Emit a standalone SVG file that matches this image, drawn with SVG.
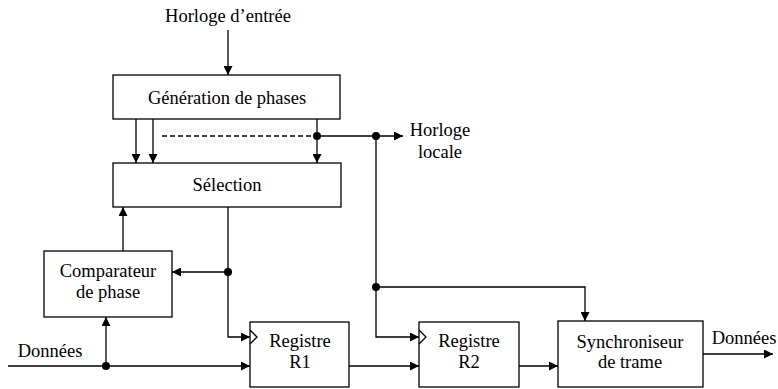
<svg xmlns="http://www.w3.org/2000/svg" width="778" height="389" viewBox="0 0 778 389">
  <style>
    .box { fill: #ffffff; stroke: #000000; stroke-width: 1.3; }
    .lbl { font-family: "Liberation Serif", serif; font-size: 18.5px; fill: #000000; text-anchor: middle; }
    .wire { fill: none; stroke: #000000; stroke-width: 1.3; }
    .arr { marker-end: url(#head); }
    .dash { stroke-dasharray: 5 3; }
    .dot { fill: #000000; }
  </style>
  <defs>
    <marker id="head" viewBox="0 0 10 10" refX="10" refY="5" markerWidth="9" markerHeight="9" markerUnits="userSpaceOnUse" orient="auto">
      <path d="M0,0 L10,5 L0,10 z" fill="#000000"/>
    </marker>
  </defs>

  <!-- free labels -->
  <text class="lbl" x="228" y="22" font-family="Liberation Serif">Horloge d’entrée</text>
  <text class="lbl" x="440" y="136" font-family="Liberation Serif">Horloge</text>
  <text class="lbl" x="440" y="158" font-family="Liberation Serif">locale</text>
  <text class="lbl" x="50" y="357" font-family="Liberation Serif">Données</text>
  <text class="lbl" x="744" y="344" font-family="Liberation Serif">Données</text>

  <!-- blocks -->
  <g id="generation">
    <rect class="box" x="113" y="75" width="227" height="44"/>
    <text class="lbl" x="227" y="104" font-family="Liberation Serif">Génération de phases</text>
  </g>
  <g id="selection">
    <rect class="box" x="113" y="163" width="228" height="44"/>
    <text class="lbl" x="227" y="191" font-family="Liberation Serif">Sélection</text>
  </g>
  <g id="comparateur">
    <rect class="box" x="44" y="251" width="128" height="66"/>
    <text class="lbl" x="108" y="277" font-family="Liberation Serif">Comparateur</text>
    <text class="lbl" x="108" y="298" font-family="Liberation Serif">de phase</text>
  </g>
  <g id="registre-r1">
    <rect class="box" x="250" y="322" width="99" height="65"/>
    <path class="wire" d="M250,330 L257,337 L250,344"/>
    <text class="lbl" x="300" y="347" font-family="Liberation Serif">Registre</text>
    <text class="lbl" x="300" y="368" font-family="Liberation Serif">R1</text>
  </g>
  <g id="registre-r2">
    <rect class="box" x="419" y="322" width="100" height="65"/>
    <path class="wire" d="M419,330 L426,337 L419,344"/>
    <text class="lbl" x="469" y="347" font-family="Liberation Serif">Registre</text>
    <text class="lbl" x="469" y="368" font-family="Liberation Serif">R2</text>
  </g>
  <g id="synchroniseur">
    <rect class="box" x="558" y="321" width="145" height="66"/>
    <text class="lbl" x="630" y="348" font-family="Liberation Serif">Synchroniseur</text>
    <text class="lbl" x="630" y="368" font-family="Liberation Serif">de trame</text>
  </g>

  <!-- connectors -->
  <g id="connectors">
    <path class="wire arr" d="M228,30 L228,75"/>
    <path class="wire arr" d="M136,119 L136,163"/>
    <path class="wire arr" d="M153,119 L153,163"/>
    <path class="wire dash" d="M162,136 L313,136"/>
    <path class="wire arr" d="M317,119 L317,163"/>
    <path class="wire arr" d="M317,136 L403,136"/>
    <path class="wire arr" d="M376,136 L376,337 L419,337"/>
    <path class="wire arr" d="M376,287 L585,287 L585,321"/>
    <path class="wire arr" d="M228,207 L228,337 L250,337"/>
    <path class="wire arr" d="M228,272 L172,272"/>
    <path class="wire arr" d="M123,251 L123,207"/>
    <path class="wire arr" d="M8,366 L250,366"/>
    <path class="wire arr" d="M106,366 L106,317"/>
    <path class="wire arr" d="M349,366 L419,366"/>
    <path class="wire arr" d="M519,366 L558,366"/>
    <path class="wire arr" d="M703,354 L773,354"/>
    <circle class="dot" cx="317" cy="136" r="4"/>
    <circle class="dot" cx="376" cy="136" r="4"/>
    <circle class="dot" cx="376" cy="287" r="4"/>
    <circle class="dot" cx="228" cy="272" r="4"/>
    <circle class="dot" cx="106" cy="366" r="4"/>
  </g>
</svg>
